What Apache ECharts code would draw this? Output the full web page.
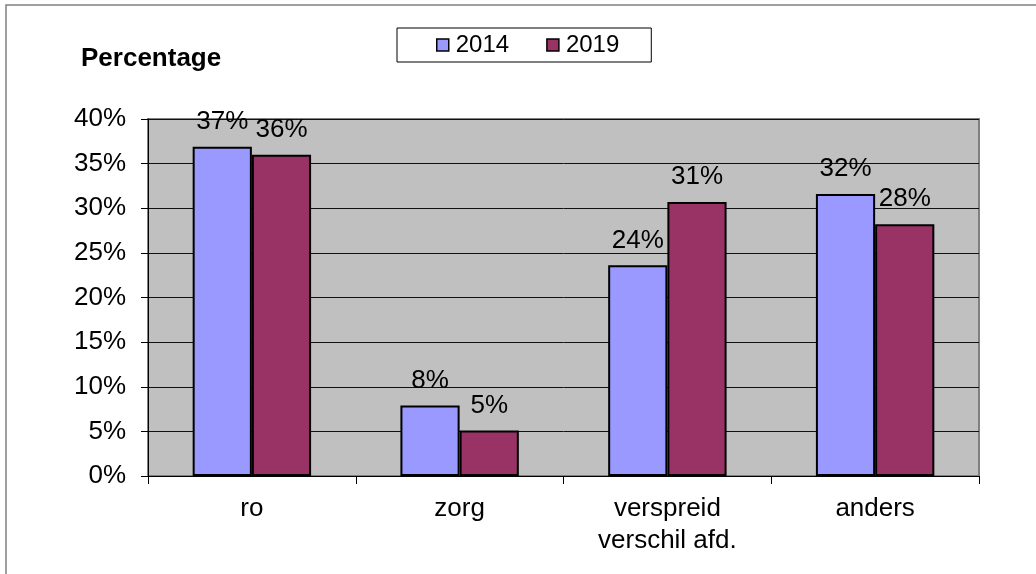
<!DOCTYPE html>
<html>
<head>
<meta charset="utf-8">
<script src="https://cdn.jsdelivr.net/npm/echarts@6/dist/echarts.min.js"></script>
<style>
  html, body { margin: 0; padding: 0; background: #fff; }
  #chart { width: 1036px; height: 574px; }
</style>
</head>
<body>
<div id="chart"></div>
<script>
// categorieën en waarden (percentages)
const categories = ['ro', 'zorg', 'verspreid\nverschil afd.', 'anders']
const years = ['2014', '2019']
const values2014 = [36.9, 7.9, 23.6, 31.6]
const values2019 = [36.0, 5.1, 30.7, 28.2]
const yTicks = [0, 5, 10, 15, 20, 25, 30, 35, 40]

const font = 'Liberation Sans, Arial, sans-serif'

const chart = echarts.init(document.getElementById('chart'))

const makeSeries = (name, data, color) => ({
  name: name,
  type: 'bar',
  barCategoryGap: '43%',
  barGap: '0%',
  itemStyle: { color: color, borderColor: '#000', borderWidth: 2 },
  label: {
    show: true,
    position: 'top',
    distance: 12,
    color: '#000',
    fontFamily: font,
    fontSize: 26,
    formatter: (p) => Math.round(p.value) + '%',
  },
  data: data,
})

const option = {
  animation: false,
  textStyle: { fontFamily: font },
  graphic: [
    {
      type: 'rect',
      shape: { x: 6, y: 5, width: 1200, height: 800 },
      style: { fill: 'none', stroke: '#808080', lineWidth: 1.5 },
      silent: true,
    },
    {
      type: 'text',
      x: 81,
      y: 59,
      style: {
        text: 'Percentage',
        font: 'bold 26px ' + font,
        fill: '#000',
        verticalAlign: 'middle',
      },
    },
  ],
  legend: {
    left: 397,
    top: 28,
    data: years,
    padding: [5, 32, 5, 39],
    itemGap: 37,
    itemWidth: 12,
    itemHeight: 12,
    icon: 'rect',
    backgroundColor: '#fff',
    borderColor: '#000',
    borderWidth: 1,
    borderRadius: 0,
    textStyle: { fontFamily: font, fontSize: 24, color: '#000', padding: [0, 0, 0, 2] },
    itemStyle: { borderColor: '#000', borderWidth: 1.5 },
  },
  grid: {
    left: 148,
    right: 57,
    top: 119,
    bottom: 98,
    show: true,
    backgroundColor: '#C0C0C0',
    borderColor: '#808080',
    borderWidth: 2,
  },
  xAxis: {
    type: 'category',
    data: categories,
    axisLine: { lineStyle: { color: '#000', width: 1 } },
    axisTick: { show: true, length: 8, lineStyle: { color: '#000' } },
    axisLabel: {
      color: '#000',
      fontFamily: font,
      fontSize: 26,
      lineHeight: 32,
      margin: 17,
      interval: 0,
    },
  },
  yAxis: {
    type: 'value',
    min: yTicks[0],
    max: yTicks[yTicks.length - 1],
    interval: 5,
    axisLine: { show: true, lineStyle: { color: '#000', width: 1 } },
    axisTick: { show: true, length: 7, lineStyle: { color: '#000' } },
    splitLine: { lineStyle: { color: '#111', width: 1 } },
    axisLabel: {
      color: '#000',
      fontFamily: font,
      fontSize: 26,
      margin: 22,
      formatter: '{value}%',
    },
  },
  series: [
    makeSeries(years[0], values2014, '#9999FF'),
    makeSeries(years[1], values2019, '#993366'),
  ],
}

chart.setOption(option)
</script>
</body>
</html>
